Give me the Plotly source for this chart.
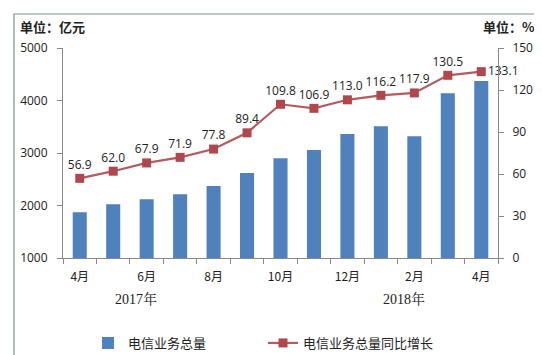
import plotly.graph_objects as go

months = ["4月", "5月", "6月", "7月", "8月", "9月", "10月", "11月", "12月", "1月", "2月", "3月", "4月"]
tick_labels = ["4月", "", "6月", "", "8月", "", "10月", "", "12月", "", "2月", "", "4月"]
volume = [1870, 2025, 2120, 2215, 2370, 2620, 2900, 3055, 3360, 3510, 3320, 4140, 4370]
growth = [56.9, 62.0, 67.9, 71.9, 77.8, 89.4, 109.8, 106.9, 113.0, 116.2, 117.9, 130.5, 133.1]
growth_pos = ["top center"] * 12 + ["middle right"]

W, H = 542, 355
L, R, T, B = 55, 52, 40, 105
PW, PH = W - L - R, H - T - B
xs = list(range(len(months)))

font_main = "Noto Sans CJK SC, Open Sans, sans-serif"

def fx(p):
    return (p - L) / PW

def fy(p):
    return (H - B - p) / PH

fig = go.Figure()
fig.add_trace(go.Bar(
    x=xs, y=volume, name="电信业务总量", marker=dict(color="#4F81BD", line=dict(width=0)),
    width=0.42, yaxis="y", hovertext=months,
))
fig.add_trace(go.Scatter(
    x=xs, y=growth, name="电信业务总量同比增长", yaxis="y2", mode="lines+markers+text",
    line=dict(color="#B35B5E", width=2.2),
    marker=dict(symbol="square", size=9, color="#B0474C", line=dict(width=0)),
    text=[f"{v:.1f}" for v in growth], textposition=growth_pos,
    textfont=dict(size=12, color="#222222", family="Open Sans, sans-serif"),
    cliponaxis=False,
))

fig.update_layout(
    width=W, height=H,
    margin=dict(l=L, r=R, t=T, b=B, autoexpand=False),
    paper_bgcolor="white", plot_bgcolor="white",
    font=dict(family=font_main, size=12, color="#222222"),
    showlegend=True,
    legend=dict(orientation="h", x=fx(80), xanchor="left", y=fy(320), yanchor="top",
                font=dict(size=13, family=font_main), itemwidth=30, traceorder="normal",
                entrywidth=130, entrywidthmode="pixels", bgcolor="rgba(0,0,0,0)"),
    xaxis=dict(
        range=[-0.5, 12.5], tickmode="array", tickvals=xs, ticktext=tick_labels,
        ticks="", showline=True, linecolor="#888888", linewidth=1, showgrid=False,
        zeroline=False, tickfont=dict(size=12), ticklabelstandoff=8,
        minor=dict(tickmode="linear", tick0=-0.5, dtick=1, ticks="outside", ticklen=5,
                   tickcolor="#888888", showgrid=False),
    ),
    yaxis=dict(
        range=[1000, 5000], dtick=1000, ticks="outside", ticklen=5, tickcolor="#888888",
        showline=True, linecolor="#888888", showgrid=False, zeroline=False,
        tickfont=dict(size=12, family="Open Sans, sans-serif"), ticklabelstandoff=7,
    ),
    yaxis2=dict(
        range=[0, 150], dtick=30, overlaying="y", side="right", ticks="outside", ticklen=5,
        tickcolor="#888888", showline=True, linecolor="#888888", showgrid=False,
        zeroline=False, tickfont=dict(size=12, family="Open Sans, sans-serif"), ticklabelstandoff=6,
    ),
    shapes=[dict(type="rect", xref="paper", yref="paper",
                 x0=fx(6), x1=fx(536), y0=fy(352), y1=fy(6),
                 line=dict(color="#7f9090", width=1.2), fillcolor="rgba(0,0,0,0)", layer="above")],
    annotations=[
        dict(text="<b>单位：亿元</b>", xref="paper", yref="paper",
             x=fx(10), y=fy(19), xanchor="left", yanchor="middle",
             showarrow=False, font=dict(size=13, family=font_main)),
        dict(text="<b>单位：%</b>", xref="paper", yref="paper",
             x=fx(529), y=fy(19), xanchor="right", yanchor="middle",
             showarrow=False, font=dict(size=13, family=font_main)),
        dict(text="2017年", xref="x", yref="paper", x=1.67, y=fy(291),
             xanchor="center", yanchor="middle", showarrow=False,
             font=dict(size=14, family="Liberation Serif, Noto Serif CJK SC, serif")),
        dict(text="2018年", xref="x", yref="paper", x=9.7, y=fy(291),
             xanchor="center", yanchor="middle", showarrow=False,
             font=dict(size=14, family="Liberation Serif, Noto Serif CJK SC, serif")),
    ],
)

fig.write_html("out.html")
